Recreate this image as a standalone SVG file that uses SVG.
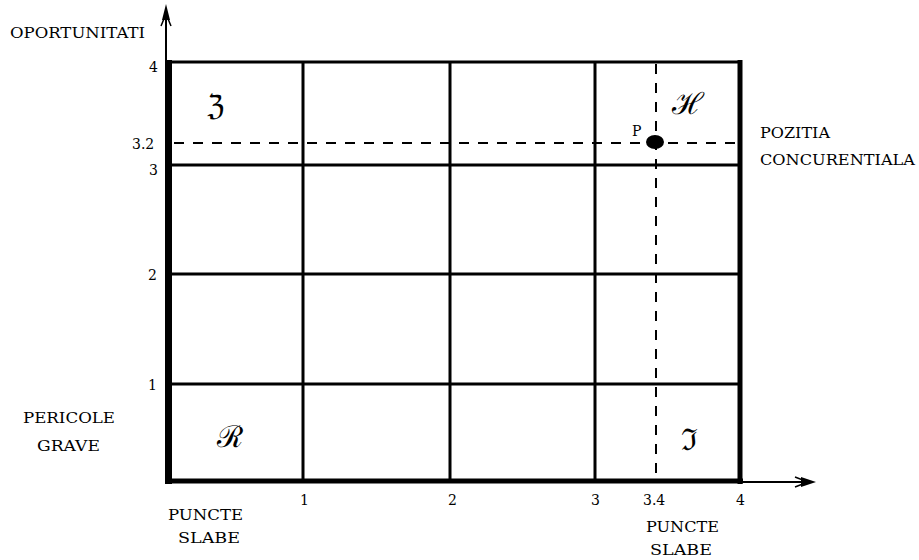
<svg xmlns="http://www.w3.org/2000/svg" width="919" height="560" viewBox="0 0 919 560">
<style>
.t{font-family:"DejaVu Serif","Liberation Serif",serif;font-size:14px;fill:#000}
.n{font-family:"DejaVu Serif","Liberation Serif",serif;font-size:14px;fill:#000}
.g{font-family:"DejaVu Serif","Liberation Serif",serif;font-size:30px;fill:#000;text-anchor:middle}
.ln{stroke:#000;stroke-width:3;fill:none}
.ds{stroke:#000;stroke-width:2;stroke-dasharray:10 9;fill:none}
.ax{stroke:#000;stroke-width:2;fill:none}
</style>
<rect width="919" height="560" fill="#fff"/>
<g id="connectors">
<line class="ax" x1="166" y1="8" x2="166" y2="484"/>
<line class="ax" x1="166" y1="482" x2="812" y2="482"/>
<path d="M166,4 L170,20 L162,20 Z" fill="#000"/>
<path d="M161,26 L166,14 L171,26" fill="none" stroke="#000" stroke-width="1.5"/>
<path d="M816,482 L801,477 L801,487 Z" fill="#000"/>
<path d="M795,477 L808,482 L795,487" fill="none" stroke="#000" stroke-width="1.5"/>
</g>
<g id="grid">
<line class="ln" x1="303" y1="62" x2="303" y2="481"/>
<line class="ln" x1="450" y1="62" x2="450" y2="481"/>
<line class="ln" x1="595" y1="62" x2="595" y2="481"/>
<line class="ln" x1="169" y1="165" x2="740" y2="165"/>
<line class="ln" x1="169" y1="274" x2="740" y2="274"/>
<line class="ln" x1="169" y1="384" x2="740" y2="384"/>
<line x1="166" y1="62" x2="742" y2="62" stroke="#000" stroke-width="3"/>
<line x1="169" y1="60" x2="169" y2="484" stroke="#000" stroke-width="6"/>
<line x1="740" y1="60" x2="740" y2="484" stroke="#000" stroke-width="5"/>
<line x1="166" y1="481" x2="743" y2="481" stroke="#000" stroke-width="5"/>
</g>
<g id="position">
<line class="ds" x1="174" y1="143" x2="740" y2="143"/>
<line class="ds" x1="656" y1="64" x2="656" y2="480"/>
<ellipse cx="655" cy="142" rx="9" ry="7" fill="#000"/>
<text class="t" x="632" y="136">P</text>
</g>
<g id="quadrant-symbols">
<text class="g" x="216" y="116">ℨ</text>
<text class="g" x="688" y="114">ℋ</text>
<text class="g" x="230" y="447">ℛ</text>
<text class="g" x="689" y="450">ℑ</text>
</g>
<g id="y-labels">
<text class="t" x="10" y="38" textLength="135" lengthAdjust="spacingAndGlyphs">OPORTUNITATI</text>
<text class="n" x="149" y="72">4</text>
<text class="n" x="132" y="149">3.2</text>
<text class="n" x="149" y="175">3</text>
<text class="n" x="148" y="280">2</text>
<text class="n" x="148" y="390">1</text>
<text class="t" x="23" y="423" textLength="92" lengthAdjust="spacingAndGlyphs">PERICOLE</text>
<text class="t" x="37" y="451" textLength="63" lengthAdjust="spacingAndGlyphs">GRAVE</text>
</g>
<g id="x-labels">
<text class="n" x="300" y="505">1</text>
<text class="n" x="448" y="505">2</text>
<text class="n" x="591" y="505">3</text>
<text class="n" x="643" y="505">3.4</text>
<text class="n" x="736" y="505">4</text>
<text class="t" x="168" y="520" textLength="75" lengthAdjust="spacingAndGlyphs">PUNCTE</text>
<text class="t" x="178" y="543" textLength="62" lengthAdjust="spacingAndGlyphs">SLABE</text>
<text class="t" x="646" y="532" textLength="73" lengthAdjust="spacingAndGlyphs">PUNCTE</text>
<text class="t" x="650" y="555" textLength="62" lengthAdjust="spacingAndGlyphs">SLABE</text>
</g>
<g id="position-label">
<text class="t" x="760" y="138" textLength="70" lengthAdjust="spacingAndGlyphs">POZITIA</text>
<text class="t" x="760" y="165" textLength="155" lengthAdjust="spacingAndGlyphs">CONCURENTIALA</text>
</g>
</svg>
